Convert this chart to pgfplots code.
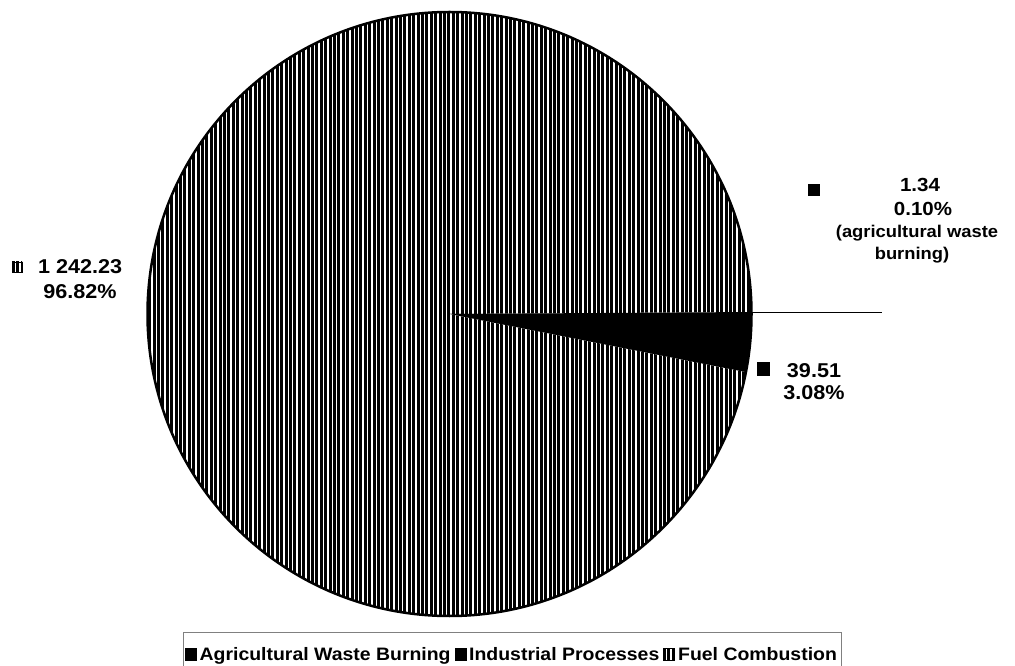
\documentclass[border=0pt]{standalone}
\usepackage{pgfplots}
\pgfplotsset{compat=1.18}
\usepackage{pgfplotstable}
\usetikzlibrary{patterns.meta}
\usepackage{fontspec}
\setmainfont{Liberation Sans}[FakeStretch=1.08]

\pgfplotstableread{
category value
Agri 1.34
Industrial 39.51
Fuel 1242.23
}\piedata

\tikzset{hatch/.style={pattern={Lines[angle=90,distance=4.4pt,line width=3pt]}, pattern color=black}}

\begin{document}%
\begin{tikzpicture}
\pgfplotstablegetelem{0}{value}\of\piedata \let\vA\pgfplotsretval
\pgfplotstablegetelem{1}{value}\of\piedata \let\vI\pgfplotsretval
\pgfplotstablegetelem{2}{value}\of\piedata \let\vF\pgfplotsretval
\pgfmathsetmacro\total{\vA+\vI+\vF}
\pgfmathsetmacro\aA{360*\vA/\total}
\pgfmathsetmacro\aI{360*\vI/\total}
\pgfmathsetmacro\eF{360-\aI}
\def\cx{449.5}\def\cy{351}\def\R{302}
\begin{axis}[
 width=1015pt, height=665pt, scale only axis,
 xmin=0, xmax=1015, ymin=0, ymax=665, enlargelimits=false,
 hide axis, ticks=none, clip=false,
 legend columns=-1,
 legend style={at={(axis cs:512,-12)}, anchor=south, draw=gray, line width=0.6pt,
   font=\fontsize{18}{22}\selectfont\bfseries, inner xsep=2pt, inner ysep=13pt,
   /tikz/every even column/.append style={column sep=2pt},
   /tikz/every odd column/.append style={column sep=1pt}},
 legend image code/.code={\path[#1] (0pt,-6pt) rectangle (11pt,6pt);},
]
\coordinate (ll) at (axis cs:0,0);
\coordinate (ur) at (axis cs:1015,665);
\addlegendimage{fill=black, draw=black}
\addlegendentry{Agricultural Waste Burning}
\addlegendimage{fill=black, draw=black}
\addlegendentry{Industrial Processes}
\addlegendimage{hatch, draw=black, line width=0.8pt}
\addlegendentry{Fuel Combustion}

% Fuel combustion
\fill[hatch] (axis cs:\cx,\cy) -- ++(\aA:\R pt) arc[start angle=\aA, end angle=\eF, radius=\R pt] -- cycle;
% Industrial processes
\fill[black] (axis cs:\cx,\cy) -- ++(0:\R pt) arc[start angle=0, end angle=-\aI, radius=\R pt] -- cycle;
% Agricultural waste burning
\fill[black] (axis cs:\cx,\cy) -- ++(0:\R pt) arc[start angle=0, end angle=\aA, radius=\R pt] -- cycle;
\draw[line width=2.5pt] (axis cs:\cx,\cy) circle[radius=\R pt];
% leader line
\draw[line width=1pt] (axis cs:751,352) -- (axis cs:882,352);

% labels
\draw[hatch, draw=black, line width=0.8pt] (axis cs:12,393) rectangle (axis cs:22,403);
\node[font=\fontsize{20}{24}\selectfont\bfseries, anchor=base west, inner sep=0pt] at (axis cs:38,391) {1 242.23};
\node[font=\fontsize{20}{24}\selectfont\bfseries, anchor=base, inner sep=0pt] at (axis cs:80,366) {96.82\%};

\fill[black] (axis cs:757,289) rectangle (axis cs:770,303);
\node[font=\fontsize{20}{24}\selectfont\bfseries, anchor=base, inner sep=0pt] at (axis cs:814,287) {39.51};
\node[font=\fontsize{20}{24}\selectfont\bfseries, anchor=base, inner sep=0pt] at (axis cs:814,265) {3.08\%};

\fill[black] (axis cs:808,469) rectangle (axis cs:820,481);
\node[font=\fontsize{19}{22}\selectfont\bfseries, anchor=base, inner sep=0pt] at (axis cs:920,473) {1.34};
\node[font=\fontsize{19}{22}\selectfont\bfseries, anchor=base, inner sep=0pt] at (axis cs:923,449) {0.10\%};
\node[font=\fontsize{17}{20}\selectfont\bfseries, anchor=base, inner sep=0pt] at (axis cs:917,427) {(agricultural waste};
\node[font=\fontsize{17}{20}\selectfont\bfseries, anchor=base, inner sep=0pt] at (axis cs:912,405) {burning)};
\end{axis}
\pgfresetboundingbox
\useasboundingbox (ll) rectangle (ur);
\end{tikzpicture}%
\end{document}
